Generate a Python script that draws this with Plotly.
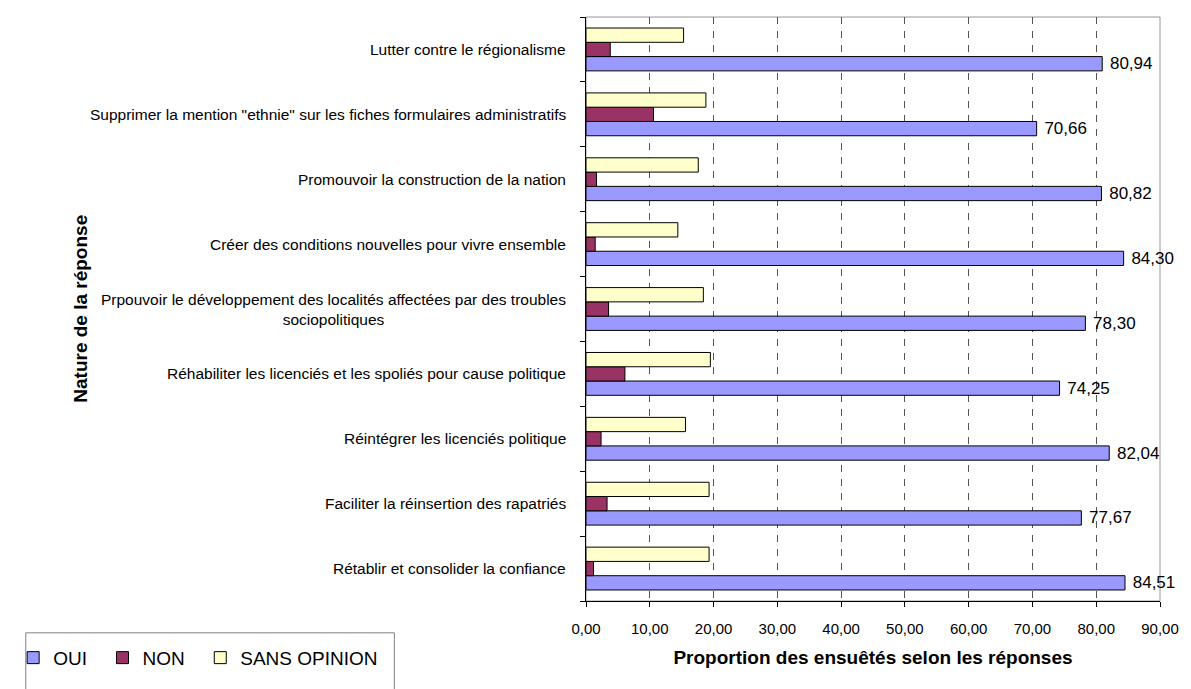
import plotly.graph_objects as go

# Categories listed top-to-bottom as they appear in the chart
categories = [
    "Lutter contre le régionalisme",
    "Supprimer la mention \"ethnie\" sur les fiches formulaires administratifs",
    "Promouvoir la construction de la nation",
    "Créer des conditions nouvelles pour vivre ensemble",
    "Prpouvoir le développement des localités affectées par des troubles<br>sociopolitiques",
    "Réhabiliter les licenciés et les spoliés pour cause politique",
    "Réintégrer les licenciés politique",
    "Faciliter la réinsertion des rapatriés",
    "Rétablir et consolider la confiance",
]
oui = [80.94, 70.66, 80.82, 84.30, 78.30, 74.25, 82.04, 77.67, 84.51]
non = [3.8, 10.58, 1.65, 1.44, 3.54, 6.1, 2.36, 3.3, 1.18]
sans_opinion = [15.3, 18.8, 17.6, 14.4, 18.4, 19.5, 15.6, 19.3, 19.3]
series_names = ["OUI", "NON", "SANS OPINION"]
x_ticks = [0, 10, 20, 30, 40, 50, 60, 70, 80, 90]

FONT = "Liberation Sans, Arial, sans-serif"
NBSP = "\u00a0"

fig = go.Figure()
fig.add_trace(go.Bar(
    y=categories, x=oui, name=series_names[0] + NBSP * 2, orientation="h",
    marker=dict(color="#9999FF", line=dict(color="#000000", width=1)),
    texttemplate=NBSP + "%{x:.2f}", textposition="outside",
    textfont=dict(family=FONT, size=17, color="#000000"),
    cliponaxis=False, constraintext="none",
))
fig.add_trace(go.Bar(
    y=categories, x=non, name=series_names[1] + NBSP * 2, orientation="h",
    marker=dict(color="#993366", line=dict(color="#000000", width=1)),
))
fig.add_trace(go.Bar(
    y=categories, x=sans_opinion, name=series_names[2], orientation="h",
    marker=dict(color="#FFFFCC", line=dict(color="#000000", width=1)),
))

annotations = []
for c in categories:
    annotations.append(dict(
        x=0, xref="paper", y=c, yref="y", text=c, showarrow=False,
        xanchor="right", xshift=-18, align="center",
        font=dict(family=FONT, size=15.5, color="#000000"),
    ))
annotations.append(dict(
    x=-0.882, xref="paper", y=0.5, yref="paper", text="<b>Nature de la réponse</b>",
    textangle=-90, showarrow=False, xanchor="center", yanchor="middle",
    font=dict(family=FONT, size=19, color="#000000"),
))

fig.update_layout(
    width=1191, height=689,
    margin=dict(l=583, r=24, t=17, b=85),
    paper_bgcolor="#FFFFFF", plot_bgcolor="#FFFFFF",
    barmode="group", bargap=0.34, bargroupgap=0,
    separators=", ",
    font=dict(family=FONT, size=15, color="#000000"),
    showlegend=True,
    legend=dict(
        orientation="h", x=-0.998, xanchor="left", y=-0.0647, yanchor="top",
        font=dict(family=FONT, size=19, color="#000000"),
        borderwidth=0, bgcolor="rgba(0,0,0,0)",
        traceorder="normal", itemwidth=30,
    ),
    annotations=annotations,
    shapes=[
        dict(type="rect", xref="paper", yref="paper", x0=0, x1=1, y0=0, y1=1,
             line=dict(color="#999999", width=1), layer="below"),
        dict(type="rect", xref="paper", yref="paper", x0=-0.976, x1=-0.3339,
             y0=-0.172, y1=-0.0545, line=dict(color="#808080", width=1),
             fillcolor="rgba(0,0,0,0)", layer="above"),
    ],
)
fig.update_xaxes(
    range=[0, 90], tickvals=x_ticks, tickformat=".2f",
    showgrid=True, gridcolor="#555555", gridwidth=1, griddash="7px,7px",
    showline=True, linecolor="#000000", linewidth=1,
    ticks="outside", ticklen=5, tickcolor="#000000", ticklabelstandoff=9,
    ticklabeloverflow="allow",
    tickfont=dict(family=FONT, size=15, color="#000000"),
    zeroline=False,
    title=dict(text="<b>Proportion des ensuêtés selon les réponses</b>",
               font=dict(family=FONT, size=19, color="#000000"), standoff=14),
)
fig.update_yaxes(
    categoryorder="array", categoryarray=list(reversed(categories)),
    showticklabels=False, showgrid=False,
    showline=True, linecolor="#000000", linewidth=1,
    ticks="outside", ticklen=5, tickcolor="#000000", tickson="boundaries",
)

fig.write_html(
    "out.html",
    config={"displayModeBar": False},
    post_script="document.body.style.margin='0';document.body.style.overflow='hidden';",
)
